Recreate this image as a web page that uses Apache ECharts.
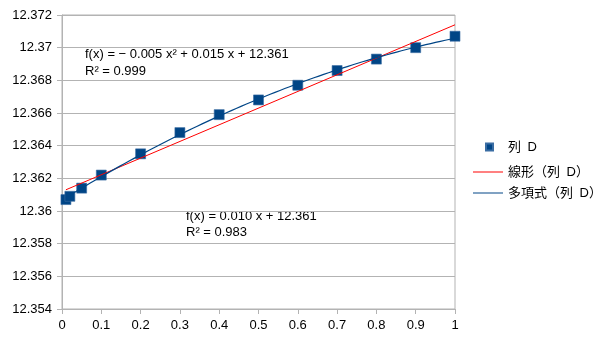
<!DOCTYPE html>
<html><head><meta charset="utf-8">
<script src="https://cdn.jsdelivr.net/npm/echarts@6/dist/echarts.min.js"></script>
<style>html,body{margin:0;padding:0;background:#fff}#c{width:605px;height:340px}</style>
</head><body><div id="c"></div>
<script>
// ---- data ----
const xValues = [0.01, 0.02, 0.05, 0.1, 0.2, 0.3, 0.4, 0.5, 0.6, 0.7, 0.8, 0.9, 1.0];
const yValues = [12.3607, 12.3609, 12.3614, 12.3622, 12.3635, 12.3648, 12.3659, 12.3668, 12.3677, 12.3686, 12.3693, 12.3700, 12.3707];
const seriesName = '列\u2002D';
const linearName = '線形（列\u2002D）';
const polyName = '多項式（列\u2002D）';
const polyEquation = ['f(x) = − 0.005 x² + 0.015 x + 12.361', 'R² = 0.999'];
const linearEquation = ['f(x) = 0.010 x + 12.361', 'R² = 0.983'];
const yMin = 12.354, yMax = 12.372, yStep = 0.002;
const xMin = 0, xMax = 1, xStep = 0.1;

// ---- least-squares trend lines computed from the data ----
const n = xValues.length;
const yMean = yValues.reduce((a, b) => a + b, 0) / n;
const yc = yValues.map(v => v - yMean);
let S1 = 0, S2 = 0, S3 = 0, S4 = 0, T0 = 0, T1 = 0, T2 = 0;
for (let i = 0; i < n; i++) {
  const x = xValues[i], y = yc[i];
  S1 += x; S2 += x * x; S3 += x * x * x; S4 += x * x * x * x;
  T0 += y; T1 += x * y; T2 += x * x * y;
}
const lb = (n * T1 - S1 * T0) / (n * S2 - S1 * S1);
const la = (T0 - lb * S1) / n;
function det3(m) {
  return m[0][0] * (m[1][1] * m[2][2] - m[1][2] * m[2][1])
       - m[0][1] * (m[1][0] * m[2][2] - m[1][2] * m[2][0])
       + m[0][2] * (m[1][0] * m[2][1] - m[1][1] * m[2][0]);
}
const M = [[n, S1, S2], [S1, S2, S3], [S2, S3, S4]];
const R = [T0, T1, T2];
const D = det3(M);
const coef = [0, 1, 2].map(k => det3(M.map((row, i) => row.map((v, j) => j === k ? R[i] : v))) / D);
const xLo = Math.min(...xValues), xHi = Math.max(...xValues);
const linearLine = [xLo, xHi].map(x => [x, yMean + la + lb * x]);
const polyLine = [];
for (let i = 0; i <= 80; i++) {
  const x = xLo + (xHi - xLo) * i / 80;
  polyLine.push([x, yMean + coef[0] + coef[1] * x + coef[2] * x * x]);
}

const FONT = "'Liberation Sans', Arial, 'Noto Sans CJK JP', sans-serif";
const grey = '#b3b3b3';
const navy = '#004586';
const chart = echarts.init(document.getElementById('c'), null, {renderer: 'canvas'});
chart.setOption({
  animation: false,
  backgroundColor: '#fff',
  grid: {left: 62, right: 150, top: 15, bottom: 31, show: true, borderColor: grey, borderWidth: 1, containLabel: false},
  xAxis: {
    type: 'value', min: xMin, max: xMax, interval: xStep,
    axisLine: {show: true, lineStyle: {color: grey}},
    axisTick: {show: true, length: 5, lineStyle: {color: grey}},
    splitLine: {show: false},
    axisLabel: {margin: 10, fontSize: 13, color: '#000', fontFamily: FONT,
      formatter: v => String(parseFloat(v.toFixed(1)))}
  },
  yAxis: {
    type: 'value', min: yMin, max: yMax, interval: yStep,
    axisLine: {show: true, lineStyle: {color: grey}},
    axisTick: {show: true, length: 5, lineStyle: {color: grey}},
    splitLine: {show: true, lineStyle: {color: grey, width: 1}},
    axisLabel: {margin: 10, fontSize: 13, color: '#000', fontFamily: FONT,
      formatter: v => String(parseFloat(v.toFixed(3)))}
  },
  legend: [
    {data: [{name: seriesName, icon: 'rect', itemStyle: {color: navy, opacity: 1}}],
     padding: 0, left: 485, top: 140, itemWidth: 7, itemHeight: 7,
     textStyle: {fontSize: 13, lineHeight: 14, color: '#000', fontFamily: FONT, padding: [0, 0, 0, 10]}},
    {data: [{name: linearName, icon: 'rect', itemStyle: {color: '#ff0000'}},
            {name: polyName, icon: 'rect', itemStyle: {color: navy}}],
     orient: 'vertical', padding: 0, left: 473, top: 165, itemWidth: 30, itemHeight: 1, itemGap: 7,
     textStyle: {fontSize: 13, lineHeight: 14, color: '#000', fontFamily: FONT}}
  ],
  graphic: [
    {type: 'text', x: 85, y: 54, style: {text: polyEquation[0], font: '13px ' + FONT, fill: '#000', verticalAlign: 'middle'}},
    {type: 'text', x: 85, y: 71, style: {text: polyEquation[1], font: '13px ' + FONT, fill: '#000', verticalAlign: 'middle'}},
    {type: 'text', x: 186, y: 216, style: {text: linearEquation[0], font: '13px ' + FONT, fill: '#000', verticalAlign: 'middle'}},
    {type: 'text', x: 186, y: 232, style: {text: linearEquation[1], font: '13px ' + FONT, fill: '#000', verticalAlign: 'middle'}}
  ],
  series: [
    {name: seriesName, type: 'scatter', symbol: 'rect', symbolSize: 10, z: 2,
     itemStyle: {color: navy, opacity: 1, borderColor: '#3a6da3', borderWidth: 0.6},
     data: xValues.map((x, i) => [x, yValues[i]])},
    {name: linearName, type: 'line', symbol: 'none', showSymbol: false, z: 3,
     lineStyle: {color: '#ff0000', width: 1}, itemStyle: {color: '#ff0000'}, data: linearLine},
    {name: polyName, type: 'line', symbol: 'none', showSymbol: false, z: 3,
     lineStyle: {color: navy, width: 1.2}, itemStyle: {color: navy}, data: polyLine}
  ]
});
</script>
</body></html>
